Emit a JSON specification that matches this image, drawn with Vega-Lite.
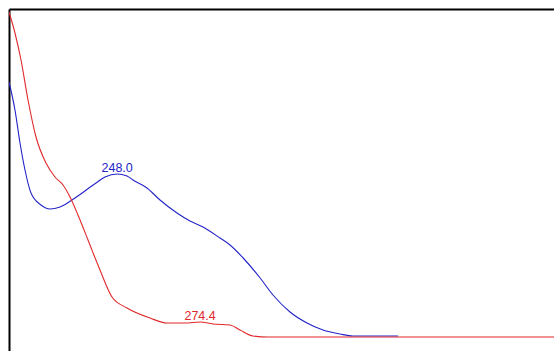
{
  "$schema": "https://vega.github.io/schema/vega-lite/v6.json",
  "autosize": {"type": "none"},
  "padding": {"left": 9, "top": 9, "right": 0, "bottom": 0},
  "width": 545,
  "height": 342,
  "background": "white",
  "config": {"view": {"stroke": null}},
  "datasets": {
    "spectra": [
      {"series": "B", "nm": 213.6, "abs": 2.55},
      {"series": "B", "nm": 215.5, "abs": 2.27},
      {"series": "B", "nm": 217.1, "abs": 1.94},
      {"series": "B", "nm": 218.69, "abs": 1.67},
      {"series": "B", "nm": 220.6, "abs": 1.44},
      {"series": "B", "nm": 223.78, "abs": 1.32},
      {"series": "B", "nm": 226.65, "abs": 1.28},
      {"series": "B", "nm": 229.83, "abs": 1.30},
      {"series": "B", "nm": 234.6, "abs": 1.39},
      {"series": "B", "nm": 241.28, "abs": 1.54},
      {"series": "B", "nm": 244.15, "abs": 1.60},
      {"series": "B", "nm": 248.0, "abs": 1.63},
      {"series": "B", "nm": 251.14, "abs": 1.61},
      {"series": "B", "nm": 253.05, "abs": 1.57},
      {"series": "B", "nm": 257.51, "abs": 1.49},
      {"series": "B", "nm": 261.64, "abs": 1.37},
      {"series": "B", "nm": 267.05, "abs": 1.24},
      {"series": "B", "nm": 271.19, "abs": 1.16},
      {"series": "B", "nm": 275.32, "abs": 1.10},
      {"series": "B", "nm": 280.73, "abs": 0.99},
      {"series": "B", "nm": 283.92, "abs": 0.92},
      {"series": "B", "nm": 288.1, "abs": 0.79},
      {"series": "B", "nm": 293.5, "abs": 0.59},
      {"series": "B", "nm": 297.6, "abs": 0.42},
      {"series": "B", "nm": 303.0, "abs": 0.25},
      {"series": "B", "nm": 308.4, "abs": 0.14},
      {"series": "B", "nm": 313.5, "abs": 0.07},
      {"series": "B", "nm": 318.9, "abs": 0.03},
      {"series": "B", "nm": 323.0, "abs": 0.01},
      {"series": "B", "nm": 337.4, "abs": 0.01},
      {"series": "R", "nm": 213.6, "abs": 3.25},
      {"series": "R", "nm": 215.5, "abs": 3.04},
      {"series": "R", "nm": 217.42, "abs": 2.77},
      {"series": "R", "nm": 219.65, "abs": 2.37},
      {"series": "R", "nm": 222.19, "abs": 2.00},
      {"series": "R", "nm": 225.37, "abs": 1.74},
      {"series": "R", "nm": 228.24, "abs": 1.60},
      {"series": "R", "nm": 230.78, "abs": 1.52},
      {"series": "R", "nm": 233.01, "abs": 1.40},
      {"series": "R", "nm": 235.55, "abs": 1.22},
      {"series": "R", "nm": 238.74, "abs": 0.97},
      {"series": "R", "nm": 242.55, "abs": 0.67},
      {"series": "R", "nm": 246.37, "abs": 0.40},
      {"series": "R", "nm": 251.14, "abs": 0.29},
      {"series": "R", "nm": 258.46, "abs": 0.19},
      {"series": "R", "nm": 263.87, "abs": 0.14},
      {"series": "R", "nm": 269.6, "abs": 0.14},
      {"series": "R", "nm": 274.4, "abs": 0.15},
      {"series": "R", "nm": 278.5, "abs": 0.13},
      {"series": "R", "nm": 283.9, "abs": 0.12},
      {"series": "R", "nm": 287.1, "abs": 0.07},
      {"series": "R", "nm": 291.2, "abs": 0.01},
      {"series": "R", "nm": 296.0, "abs": 0.0},
      {"series": "R", "nm": 387.0, "abs": 0.0}
    ],
    "peaks": [
      {"series": "B", "nm": 248.0, "abs": 1.63, "label": "248.0"},
      {"series": "R", "nm": 274.4, "abs": 0.15, "label": "274.4"}
    ]
  },
  "encoding": {
    "x": {
      "field": "nm",
      "type": "quantitative",
      "scale": {"domain": [213.6, 387.0], "nice": false, "zero": false},
      "axis": {"orient": "top", "title": null, "labels": false, "ticks": false, "grid": false, "domainColor": "#000000", "domainWidth": 2}
    },
    "y": {
      "field": "abs",
      "type": "quantitative",
      "scale": {"domain": [-0.14, 3.28], "nice": false, "zero": false},
      "axis": {"orient": "left", "title": null, "labels": false, "ticks": false, "grid": false, "domainColor": "#000000", "domainWidth": 2}
    },
    "color": {
      "field": "series",
      "type": "nominal",
      "scale": {"domain": ["B", "R"], "range": ["#2323c8", "#e0282a"]},
      "legend": null
    }
  },
  "layer": [
    {
      "data": {"name": "spectra"},
      "mark": {"type": "line", "interpolate": "monotone", "strokeWidth": 1.1, "clip": true}
    },
    {
      "data": {"name": "peaks"},
      "mark": {"type": "text", "font": "Liberation Sans", "fontSize": 12.5, "baseline": "alphabetic", "align": "center", "dy": -2},
      "encoding": {"text": {"field": "label"}}
    }
  ]
}
